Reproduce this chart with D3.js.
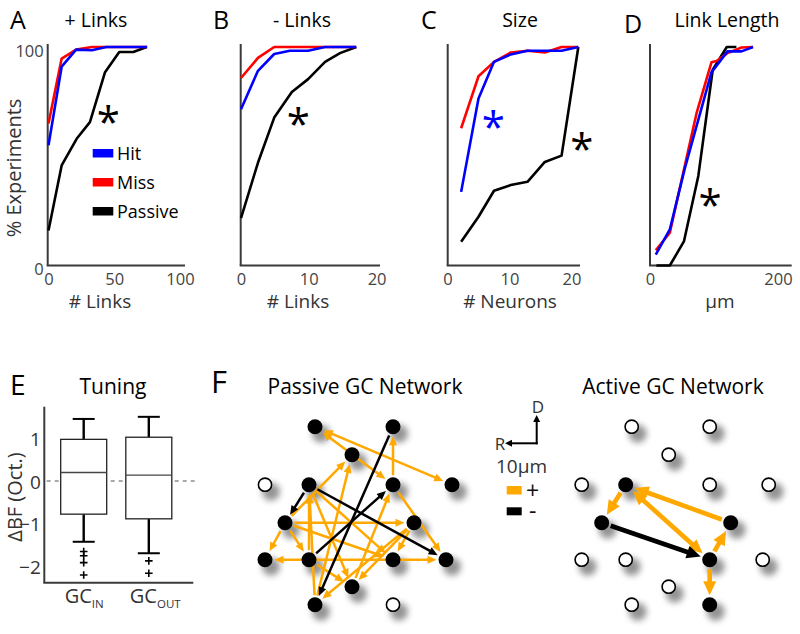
<!DOCTYPE html>
<html><head><meta charset="utf-8">
<script src="https://cdn.jsdelivr.net/npm/d3@7"></script>
<style>body{margin:0;background:#fff} svg{display:block} text{font-family:"Open Sans",sans-serif}</style>
</head><body><svg id="c" width="800" height="634"></svg>
<script>
// ---------------- DATA ----------------
// Panel A: + Links (cumulative % experiments)
const posLinksHit     = [[0,55],[10,91],[21,98.8],[33,98.5],[44,100],[75,100]];
const posLinksMiss    = [[0,65],[10,94.7],[21,98.8],[33,100],[75,100]];
const posLinksPassive = [[0,16],[10,45.8],[21.4,58],[31.5,65.6],[43,88.5],[53.8,97.7],[64.5,97.7],[74.7,100]];
// Panel B: - Links
const negLinksHit     = [[0,71.5],[2.5,89.1],[4.9,96.8],[7.2,98.3],[9.9,98.3],[12.4,100],[17,100]];
const negLinksMiss    = [[0,85.8],[2.5,95],[4.9,100],[17,100]];
const negLinksPassive = [[0,21.7],[2.5,47],[4.9,67.7],[7.5,79.4],[9.9,85.3],[12.4,93.2],[14.6,97.2],[17,100]];
// Panel C: Size
const sizeHit     = [[2.2,33.7],[5,76.4],[7.5,93.2],[10.2,96.6],[12.9,98.3],[18.4,98.3],[21.1,100]];
const sizeMiss    = [[2.2,62.8],[5,86.6],[7.5,93.2],[10.2,97.5],[12.9,98.3],[15.7,97.5],[18.4,100],[21.1,100]];
const sizePassive = [[2.2,10.9],[5,22.3],[7.5,34.2],[10.2,36.8],[12.9,38.3],[15.7,47.4],[18.4,50.3],[21.1,100]];
// Panel D: Link Length
const lengthHit     = [[9,5],[31,16.5],[54,44],[96,88.4],[121,98],[143,98],[161,100]];
const lengthMiss    = [[9,7],[31,15],[52,42.5],[73,70],[96,93],[104,93.6],[121,97.2],[143,99.8],[161,100]];
const lengthPassive = [[10,0],[31,0],[53,11],[75.5,41],[98,89.6],[120,100],[135,100]];

const ticksLinksPos = [0,50,100];
const ticksLinksNeg = [0,10,20];
const ticksSize     = [0,10,20];
const ticksLength   = [0,200];
const ticksPct      = [0,100];
const legendLabels  = ["Hit","Miss","Passive"];

// Panel E: Tuning box plot
const boxCategories = ["IN","OUT"];
const whiskerHigh = [1.46, 1.51];
const boxQ3       = [0.98, 1.03];
const boxMedian   = [0.20, 0.14];
const boxQ1       = [-0.78, -0.89];
const whiskerLow  = [-1.43, -1.70];
const outliersIN  = [-1.66, -1.76, -1.92, -2.21];
const outliersOUT = [-1.88, -2.17];
const ticksTuning = [1,0,-1,-2];

// Panel F: networks (node layout in um-like grid units)
const nodeX = [50,128,87,0,44,128,187,20,149,0,44,128,181,87,50,128];
const nodeY = [0,0,28,58,58,58,58,96,96,133,133,133,133,160,178,178];
const passiveFilled = [1,1,1,0,1,1,1,1,1,1,1,1,1,1,1,0];
const activeFilled  = [0,0,0,0,1,0,0,1,1,0,0,1,0,0,0,1];
// [source, target, sign, bidirectional]
const passiveEdges = [
  [0,6,"+",1],[0,5,"+",1],[5,1,"+",0],[5,12,"+",0],[7,2,"+",0],[14,2,"+",0],
  [7,9,"+",0],[7,10,"+",0],[7,8,"+",0],[9,12,"+",1],[10,4,"+",0],[14,4,"+",0],
  [4,11,"+",0],[4,13,"+",0],[7,11,"+",0],[8,11,"+",0],[8,14,"+",0],[8,13,"+",0],
  [13,5,"+",0],[10,13,"+",0],
  [1,14,"-",0],[4,12,"-",0],[10,5,"-",0],[4,7,"-",0]
];
const activeEdges = [
  [8,4,"+",0],[4,11,"+",1],[4,7,"+",0],[7,11,"-",0],[11,8,"+",0],[11,15,"+",0]
];

// ---------------- DRAW ----------------
const svg = d3.select("#c");
const defs = svg.append("defs");
defs.append("filter").attr("id","blur").attr("x","-1").attr("y","-1").attr("width","3").attr("height","3")
  .append("feGaussianBlur").attr("stdDeviation",3.4);

const AX = "#3a3a3a", TICK = "#444";
const COL = {hit:"#0000ff", miss:"#ff0000", passive:"#000000"};
const ORANGE = "#ffa800";

const yPct = d3.scaleLinear().domain([0,100]).range([265.5,47]);

const tops = [
  {letter:"A", lx:10,  ly:29, title:"+ Links",     tx:96,  series:[posLinksPassive,posLinksMiss,posLinksHit],
   xr:[48.5,180],   xd:[0,100], ax:[47.7,185],   ticks:ticksLinksPos, xlabel:"# Links",   xlx:100, yTicks:true},
  {letter:"B", lx:213, ly:29, title:"- Links",     tx:302, series:[negLinksPassive,negLinksMiss,negLinksHit],
   xr:[241,376.6],  xd:[0,20],  ax:[240.7,380],  ticks:ticksLinksNeg, xlabel:"# Links",   xlx:298},
  {letter:"C", lx:421, ly:29, title:"Size",        tx:520, series:[sizePassive,sizeMiss,sizeHit],
   xr:[447.5,571.5],xd:[0,20],  ax:[447.7,580],  ticks:ticksSize,     xlabel:"# Neurons", xlx:510},
  {letter:"D", lx:624, ly:33, title:"Link Length", tx:727, series:[lengthPassive,lengthMiss,lengthHit],
   xr:[650,778],    xd:[0,200], ax:[650,791.7],  ticks:ticksLength,   xlabel:"μm",        xlx:720}
];
const seriesColors = [COL.passive, COL.miss, COL.hit];

tops.forEach(p => {
  const g = svg.append("g");
  const x = d3.scaleLinear().domain(p.xd).range(p.xr);
  g.append("text").attr("x",p.lx).attr("y",p.ly).attr("font-size",25).text(p.letter);
  g.append("text").attr("x",p.tx).attr("y",27).attr("font-size",19.5).attr("text-anchor","middle").text(p.title);
  g.append("line").attr("x1",p.ax[0]).attr("x2",p.ax[0]).attr("y1",44).attr("y2",265.5).attr("stroke",AX).attr("stroke-width",2);
  g.append("line").attr("x1",p.ax[0]-1).attr("x2",p.ax[1]).attr("y1",265.5).attr("y2",265.5).attr("stroke",AX).attr("stroke-width",2);
  const xa = g.append("g").attr("transform","translate(0,265.5)")
    .call(d3.axisBottom(x).tickValues(p.ticks).tickSize(0).tickPadding(8));
  xa.select(".domain").remove();
  xa.selectAll("text").attr("font-size",16.5).attr("fill",TICK).attr("font-family","Open Sans");
  if (p.yTicks) {
    const ya = g.append("g").attr("transform",`translate(${p.ax[0]},4)`)
      .call(d3.axisLeft(yPct).tickValues(ticksPct).tickSize(0).tickPadding(4));
    ya.select(".domain").remove();
    ya.selectAll("text").attr("font-size",16.5).attr("fill",TICK).attr("font-family","Open Sans");
  }
  g.append("text").attr("x",p.xlx).attr("y",307.5).attr("font-size",19).attr("text-anchor","middle").attr("fill","#333").text(p.xlabel);
  const line = d3.line().x(d=>x(d[0])).y(d=>yPct(d[1]));
  p.series.forEach((s,i) => {
    g.append("path").attr("d",line(s)).attr("fill","none").attr("stroke",seriesColors[i])
      .attr("stroke-width",2.6).attr("stroke-linejoin","round");
  });
});

svg.append("text").attr("transform","translate(21,168) rotate(-90)").attr("text-anchor","middle")
  .attr("font-size",20).attr("fill","#333").text("% Experiments");

// legend A
const legColors = [COL.hit, COL.miss, COL.passive];
legendLabels.forEach((l,i) => {
  const yy = 153 + i*29;
  svg.append("rect").attr("x",92.7).attr("y",yy-4).attr("width",20.6).attr("height",8.5).attr("fill",legColors[i]);
  svg.append("text").attr("x",117).attr("y",yy+6.5).attr("font-size",18).text(l);
});

// asterisks
const stars = [[108.3,115,"#000"],[298.3,116.7,"#000"],[493.3,120,"#0000ff"],[581.7,141.7,"#000"],[710,198.3,"#000"]];
stars.forEach(s => {
  svg.append("text").attr("x",s[0]).attr("y",s[1]+22).attr("text-anchor","middle")
    .attr("font-size",42).attr("fill",s[2]).text("*");
});

// ---------------- Panel E ----------------
const yE = d3.scaleLinear().domain([-2,1]).range([566,438.5]);
const xE = d3.scalePoint().domain(boxCategories).range([83.7,148.8]);
svg.append("text").attr("x",10).attr("y",395).attr("font-size",28).text("E");
svg.append("text").attr("x",113).attr("y",394).attr("font-size",21).attr("text-anchor","middle").text("Tuning");
svg.append("line").attr("x1",44.3).attr("x2",44.3).attr("y1",406.7).attr("y2",582.7).attr("stroke",AX).attr("stroke-width",2);
svg.append("line").attr("x1",43.3).attr("x2",193.3).attr("y1",582.7).attr("y2",582.7).attr("stroke",AX).attr("stroke-width",2);
svg.append("line").attr("x1",46.7).attr("x2",196.7).attr("y1",yE(0)).attr("y2",yE(0))
  .attr("stroke","#555").attr("stroke-width",1.2).attr("stroke-dasharray","4,4");
const yaE = svg.append("g").attr("transform","translate(44.3,1)")
  .call(d3.axisLeft(yE).tickValues(ticksTuning).tickFormat(d3.format("d")).tickSize(0).tickPadding(3.5));
yaE.select(".domain").remove();
yaE.selectAll("text").attr("font-size",19).attr("fill","#333").attr("font-family","Open Sans");
svg.append("text").attr("transform","translate(21.5,497) rotate(-90)").attr("text-anchor","middle")
  .attr("font-size",20).attr("fill","#333").text("ΔBF (Oct.)");

const outliers = [outliersIN, outliersOUT];
boxCategories.forEach((c,i) => {
  const cx = xE(c), bw = 46, cw = 22;
  svg.append("line").attr("x1",cx).attr("x2",cx).attr("y1",yE(whiskerHigh[i])).attr("y2",yE(boxQ3[i])).attr("stroke","#000").attr("stroke-width",2.4);
  svg.append("line").attr("x1",cx).attr("x2",cx).attr("y1",yE(boxQ1[i])).attr("y2",yE(whiskerLow[i])).attr("stroke","#000").attr("stroke-width",2.4);
  svg.append("line").attr("x1",cx-cw/2).attr("x2",cx+cw/2).attr("y1",yE(whiskerHigh[i])).attr("y2",yE(whiskerHigh[i])).attr("stroke","#000").attr("stroke-width",2);
  svg.append("line").attr("x1",cx-cw/2).attr("x2",cx+cw/2).attr("y1",yE(whiskerLow[i])).attr("y2",yE(whiskerLow[i])).attr("stroke","#000").attr("stroke-width",2);
  svg.append("rect").attr("x",cx-bw/2).attr("y",yE(boxQ3[i])).attr("width",bw).attr("height",yE(boxQ1[i])-yE(boxQ3[i]))
    .attr("fill","#fff").attr("stroke","#222").attr("stroke-width",1.3);
  svg.append("line").attr("x1",cx-bw/2).attr("x2",cx+bw/2).attr("y1",yE(boxMedian[i])).attr("y2",yE(boxMedian[i])).attr("stroke","#444").attr("stroke-width",1.3);
  outliers[i].forEach(v => {
    const oy = yE(v);
    svg.append("path").attr("d",`M${cx-3.8},${oy}H${cx+3.8}M${cx},${oy-3.8}V${oy+3.8}`).attr("stroke","#000").attr("stroke-width",1.6);
  });
  const t = svg.append("text").attr("x",cx-19).attr("y",603).attr("font-size",20).attr("fill","#333");
  t.append("tspan").text("GC");
  t.append("tspan").attr("font-size",11.5).attr("dy",5).text(c);
});

// ---------------- Panel F ----------------
svg.append("text").attr("x",211).attr("y",393).attr("font-size",31).text("F");
svg.append("text").attr("x",365).attr("y",394).attr("font-size",21).attr("text-anchor","middle").text("Passive GC Network");
svg.append("text").attr("x",673).attr("y",394).attr("font-size",21).attr("text-anchor","middle").text("Active GC Network");

function arrowHead(g, tx, ty, ux, uy, L, W, color) {
  const bx = tx - ux*L, by = ty - uy*L, px = -uy, py = ux;
  g.append("path").attr("d",`M${tx},${ty}L${bx+px*W/2},${by+py*W/2}L${bx-px*W/2},${by-py*W/2}Z`).attr("fill",color);
}
function drawNetwork(x0, filled, edges, lw, hL, hW) {
  const xs = d3.scaleLinear().domain([0,187]).range([x0, x0+187]);
  const ys = d3.scaleLinear().domain([0,178]).range([426.7, 604.7]);
  const g = svg.append("g");
  const r = 7.5;
  nodeX.forEach((nx,i) => {
    g.append("circle").attr("cx",xs(nx)+6).attr("cy",ys(nodeY[i])+7).attr("r",9)
      .attr("fill","#666").attr("opacity",0.7).attr("filter","url(#blur)");
  });
  edges.forEach(e => {
    const [s,t,sign,both] = e;
    const color = sign === "+" ? ORANGE : "#000";
    const x1 = xs(nodeX[s]), y1 = ys(nodeY[s]), x2 = xs(nodeX[t]), y2 = ys(nodeY[t]);
    const len = Math.hypot(x2-x1, y2-y1), ux = (x2-x1)/len, uy = (y2-y1)/len;
    const gap = r + 2;
    const sx = x1 + ux*gap, sy = y1 + uy*gap, tx = x2 - ux*gap, ty = y2 - uy*gap;
    const ls = both ? hL*0.8 : 0;
    g.append("line").attr("x1",sx+ux*ls).attr("y1",sy+uy*ls).attr("x2",tx-ux*hL*0.8).attr("y2",ty-uy*hL*0.8)
      .attr("stroke",color).attr("stroke-width",lw);
    arrowHead(g, tx, ty, ux, uy, hL, hW, color);
    if (both) arrowHead(g, sx, sy, -ux, -uy, hL, hW, color);
  });
  nodeX.forEach((nx,i) => {
    const c = g.append("circle").attr("cx",xs(nx)).attr("cy",ys(nodeY[i]));
    if (filled[i]) c.attr("r",r).attr("fill","#000");
    else c.attr("r",6.6).attr("fill","#fff").attr("stroke","#000").attr("stroke-width",1.6);
  });
}
drawNetwork(265, passiveFilled, passiveEdges, 2.5, 9, 8);
drawNetwork(581.7, activeFilled, activeEdges, 4.6, 14, 13);

// compass + legend
const cg = svg.append("g");
cg.append("line").attr("x1",536.7).attr("x2",536.7).attr("y1",444.3).attr("y2",421).attr("stroke","#000").attr("stroke-width",2);
cg.append("line").attr("x1",537.7).attr("x2",511).attr("y1",443.3).attr("y2",443.3).attr("stroke","#000").attr("stroke-width",2);
arrowHead(cg, 536.7, 415, 0, -1, 7, 7, "#000");
arrowHead(cg, 505, 443.3, -1, 0, 7, 7, "#000");
cg.append("text").attr("x",538).attr("y",413).attr("font-size",17).attr("text-anchor","middle").attr("fill","#333").text("D");
cg.append("text").attr("x",500).attr("y",449.5).attr("font-size",17).attr("text-anchor","middle").attr("fill","#333").text("R");
cg.append("text").attr("x",496).attr("y",473).attr("font-size",19).attr("fill","#333").text("10μm");
cg.append("rect").attr("x",506.7).attr("y",486).attr("width",15).attr("height",8.5).attr("fill",ORANGE);
cg.append("rect").attr("x",506.7).attr("y",507.3).attr("width",15).attr("height",8).attr("fill","#000");
cg.append("text").attr("x",526).attr("y",499).attr("font-size",23).attr("fill","#111").text("+");
cg.append("text").attr("x",529).attr("y",519).attr("font-size",23).attr("fill","#111").text("-");
</script></body></html>
